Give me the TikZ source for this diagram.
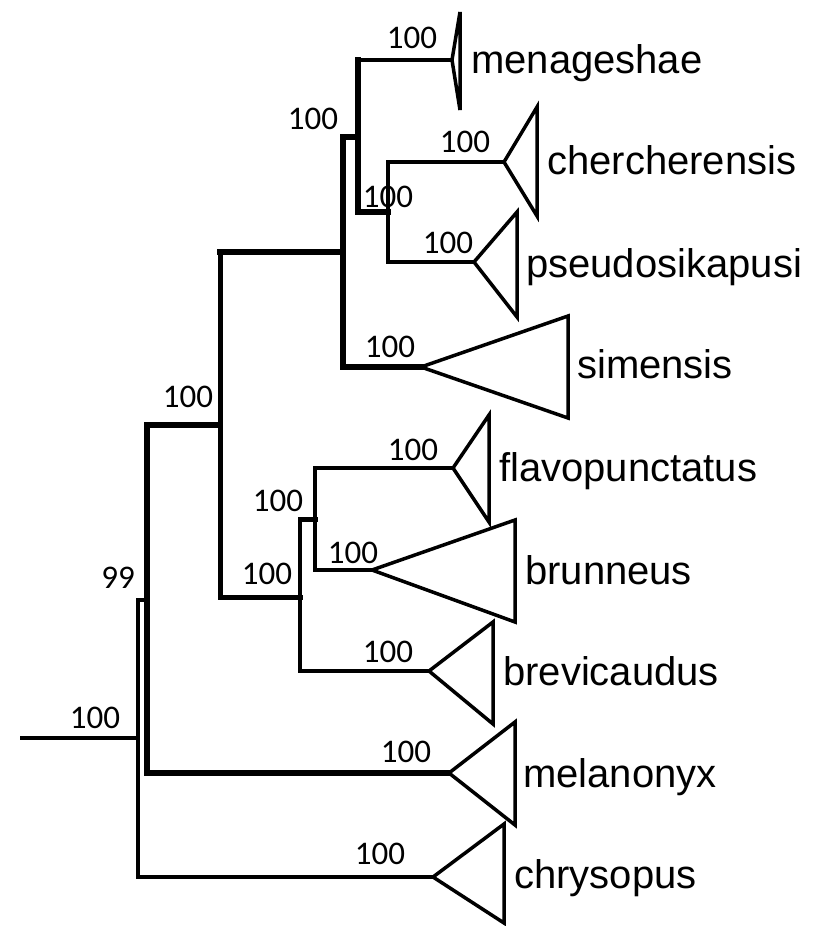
\documentclass[tikz,border=0pt]{standalone}
\usepackage{fontspec}
\setmainfont{Liberation Sans}
\newfontfamily\numfont{Carlito}
\tikzset{
  br/.style={line cap=rect, line width=4pt},
  brmid/.style={line cap=rect, line width=5pt},
  brthick/.style={line cap=rect, line width=6.5pt},
  clade/.style={line width=3.5pt, line join=miter},
  taxon/.style={anchor=base west, inner sep=0pt, font=\fontsize{40}{48}\selectfont},
  support/.style={inner sep=0pt, font=\numfont\fontsize{33}{40}\selectfont}
}
\begin{document}
\begin{tikzpicture}[x=1pt,y=-1pt]
\useasboundingbox (0,0) rectangle (827,926);
% internal nodes
\coordinate (r0) at (22,738);
\coordinate (root) at (138,738);
\coordinate (n99) at (147,600);
\coordinate (nA) at (220,425);
\coordinate (nU) at (343,252);
\coordinate (nM) at (358,137);
\coordinate (nCP) at (388,212);
\coordinate (nL) at (300,597);
\coordinate (nFB) at (315,519);
% tips (apex of clade triangles)
\coordinate (tmen) at (452,60);
\coordinate (tche) at (504,162);
\coordinate (tpse) at (474,262);
\coordinate (tsim) at (421,367);
\coordinate (tfla) at (453,468);
\coordinate (tbru) at (372,570);
\coordinate (tbrv) at (429,671);
\coordinate (tmel) at (449,773);
\coordinate (tchr) at (433,877);
% branches
\draw[br] (r0) -- (root);
\draw[br] (root |- n99) -- (root |- tchr);
\draw[br] (root |- n99) -- (n99);
\draw[br] (root |- tchr) -- (tchr);
\draw[brthick] (n99 |- nA) -- (n99 |- tmel);
\draw[brthick] (n99 |- nA) -- (nA);
\draw[brthick] (n99 |- tmel) -- (tmel);
\draw[brmid] (nA |- nU) -- (nA |- nL);
\draw[brthick] (nA |- nU) -- (nU);
\draw[brmid] (nA |- nL) -- (nL);
\draw[brthick] (nU |- nM) -- (nU |- tsim);
\draw[brthick] (nU |- nM) -- (nM);
\draw[brthick] (nU |- tsim) -- (tsim);
\draw[brthick] (nM |- tmen) -- (nM |- nCP);
\draw[br] (nM |- tmen) -- (tmen);
\draw[brthick] (nM |- nCP) -- (nCP);
\draw[br] (nCP |- tche) -- (nCP |- tpse);
\draw[br] (nCP |- tche) -- (tche);
\draw[br] (nCP |- tpse) -- (tpse);
\draw[br] (nL |- nFB) -- (nL |- tbrv);
\draw[brmid] (nL |- nFB) -- (nFB);
\draw[br] (nL |- tbrv) -- (tbrv);
\draw[br] (nFB |- tfla) -- (nFB |- tbru);
\draw[br] (nFB |- tfla) -- (tfla);
\draw[br] (nFB |- tbru) -- (tbru);
% collapsed clades
\draw[clade] (tmen) -- ++(8,-48) -- ++(0,98) -- cycle;
\draw[clade] (tche) -- ++(33,-55) -- ++(0,109) -- cycle;
\draw[clade] (tpse) -- ++(43,-50) -- ++(0,105) -- cycle;
\draw[clade] (tsim) -- ++(147,-51) -- ++(0,102) -- cycle;
\draw[clade] (tfla) -- ++(36,-53) -- ++(0,107) -- cycle;
\draw[clade] (tbru) -- ++(143,-50) -- ++(0,102) -- cycle;
\draw[clade] (tbrv) -- ++(64,-49) -- ++(0,102) -- cycle;
\draw[clade] (tmel) -- ++(66,-51) -- ++(0,103) -- cycle;
\draw[clade] (tchr) -- ++(71,-53) -- ++(0,99) -- cycle;
% taxon names
\node[taxon] (lmen) at (471,73) {menageshae};
\node[taxon] (lche) at (547,174) {chercherensis};
\node[taxon] (lpse) at (526,277) {pseudosikapusi};
\node[taxon] (lsim) at (577,378) {simensis};
\node[taxon] (lfla) at (499,481) {flavopunctatus};
\node[taxon] (lbru) at (525,584) {brunneus};
\node[taxon] (lbrv) at (503,685) {brevicaudus};
\node[taxon] (lmel) at (523,787) {melanonyx};
\node[taxon] (lchr) at (514,888) {chrysopus};
% support values
\node[support] (sroot) at (95,718) {100};
\node[support] (s99) at (118,578) {99};
\node[support] (sA) at (188,397) {100};
\node[support] (sU) at (313,119) {100};
\node[support] (smen) at (412,38) {100};
\node[support] (sche) at (465,142) {100};
\node[support] (sCP) at (388,197) {100};
\node[support] (spse) at (448,243) {100};
\node[support] (ssim) at (390,347) {100};
\node[support] (sL) at (267,574) {100};
\node[support] (sFB) at (278,501) {100};
\node[support] (sfla) at (413,450) {100};
\node[support] (sbru) at (353,553) {100};
\node[support] (sbrv) at (388,652) {100};
\node[support] (smel) at (406,752) {100};
\node[support] (schr) at (380,854) {100};
\end{tikzpicture}
\end{document}
